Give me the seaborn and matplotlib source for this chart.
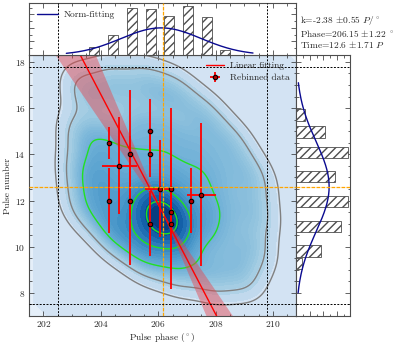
import numpy as np
import pandas as pd
import matplotlib.pyplot as plt
import matplotlib.colors as mcolors
from matplotlib.ticker import MultipleLocator
import seaborn as sns

# rebinned data
phase = [204.3, 204.3, 204.65, 205.0, 205.0, 205.7, 205.7, 205.7, 206.05, 206.43, 206.43, 206.43, 207.13, 207.5]
pulse = [14.5, 12.0, 13.5, 14.0, 12.0, 15.0, 14.0, 11.0, 12.5, 12.5, 11.5, 11.0, 12.0, 12.25]
phase_err = [0, 0, 0.6, 0, 0, 0, 0, 0, 0.5, 0, 0, 0, 0, 0.5]
pulse_err = [0.7, 1.4, 2.1, 2.8, 2.8, 1.4, 1.0, 1.4, 2.1, 3.5, 1.0, 2.85, 1.4, 3.1]

# single-pulse samples behind the density map (estimated from the map)
kde_phase = [203.5, 204.5, 205.6, 206.6, 207.6, 208.5, 209.2, 209.3, 209.2, 208.8, 207.8,
             206.6, 205.5, 204.5, 203.5, 203.4, 203.4,
             204.3, 205.3, 206.3, 207.3, 208.0, 208.1, 207.8, 206.8, 205.6, 204.6, 204.1, 204.1,
             205.2, 206.2, 207.0, 207.2, 206.6, 205.5, 205.0, 206.0,
             206.1, 205.9, 206.3, 206.0, 206.3]
kde_pulse = [16.7, 17.0, 17.0, 16.6, 15.6, 14.4, 13.0, 11.5, 10.0, 8.9, 8.8,
             9.1, 9.6, 10.5, 11.7, 13.2, 14.8,
             14.6, 15.2, 15.0, 14.2, 13.0, 11.6, 10.5, 10.0, 10.2, 11.0, 12.2, 13.4,
             13.8, 13.6, 12.8, 11.6, 11.0, 11.2, 12.4, 12.4,
             11.3, 11.1, 11.5, 11.6, 11.0]

# top histogram (pulse phase)
phase_bins = [203.76, 204.42, 205.08, 205.74, 206.39, 207.03, 207.69, 208.32]
phase_counts = [1.2, 2.9, 6.9, 6.8, 5.7, 7.2, 5.6, 0.7]

# right histogram (pulse number)
pulse_bins = [15.71, 14.97, 14.07, 13.04, 11.95, 10.88, 9.82, 9.28]
pulse_counts = [1.3, 4.3, 7.6, 5.7, 7.6, 6.6, 3.7, 0.9]

# fit results
k, k_err = -2.38, 0.55
phase0, phase0_err = 206.15, 1.22
time0, time0_err = 12.6, 1.71
fit_y0 = 11.48  # fitted line at phase0

# norm-fitting curves as drawn
top_mu, top_sigma, top_amp = 206.1, 1.4, 4.0
right_mu, right_sigma, right_amp = 12.6, 1.95, 4.85

# dotted guide lines
x_guides = [202.5, 209.8]
y_guides = [17.8, 7.5]

sns.set_style('ticks')
plt.rcParams['font.family'] = ['cmr10', 'DejaVu Serif']
plt.rcParams['mathtext.fontset'] = 'cm'
plt.rcParams['axes.unicode_minus'] = False
plt.rcParams['axes.formatter.use_mathtext'] = True
plt.rcParams['font.size'] = 6.8

fig = plt.figure(figsize=(3.99, 3.46), dpi=100)
ax = fig.add_axes([0.0727, 0.0867, 0.6693, 0.7543])
ax_top = fig.add_axes([0.0727, 0.841, 0.6693, 0.150], sharex=ax)
ax_right = fig.add_axes([0.742, 0.0867, 0.135, 0.7543], sharey=ax)

xlim = (201.5, 210.8)
ylim = (7.0, 18.3)

# density
t = np.linspace(0, 1, 256)
cmap = mcolors.ListedColormap(plt.cm.Blues(0.1 + 0.88 * t ** 0.65))
ax.set_facecolor(plt.cm.Blues(0.09))
kde = pd.DataFrame({'phase': kde_phase, 'pulse': kde_pulse})
bw = 0.65
sns.kdeplot(data=kde, x='phase', y='pulse', fill=True, levels=30, thresh=0,
            cmap=cmap, bw_adjust=bw, ax=ax, zorder=0)
sns.kdeplot(data=kde, x='phase', y='pulse', levels=[0.025, 0.09], color='gray',
            linewidths=1, bw_adjust=bw, ax=ax, zorder=1)
sns.kdeplot(data=kde, x='phase', y='pulse', levels=[0.5, 0.82, 0.94], color='#22e022',
            linewidths=1, bw_adjust=bw, ax=ax, zorder=1)

# linear fit with slope uncertainty band
xf = np.linspace(xlim[0], xlim[1], 200)
ax.fill_between(xf, fit_y0 + (k - k_err) * (xf - phase0), fit_y0 + (k + k_err) * (xf - phase0),
                color='#e8434b', alpha=0.45, lw=0, zorder=2)
sns.lineplot(x=xf, y=fit_y0 + k * (xf - phase0), color='red', lw=1, ax=ax,
             label='Linear fitting', zorder=3)

ax.errorbar(phase, pulse, xerr=phase_err, yerr=pulse_err, fmt='o', color='red',
            ecolor='red', elinewidth=1.3, ms=3.2, mfc='#b00000', mec='black', mew=0.8,
            label='Rebinned data', zorder=4)

for a in (ax, ax_top):
    for xg in x_guides:
        a.axvline(xg, color='black', ls=(0, (2, 1.5)), lw=0.7, zorder=5)
    a.axvline(phase0, color='#ffa500', ls=(0, (3, 1)), lw=0.9, zorder=5)
for a in (ax, ax_right):
    for yg in y_guides:
        a.axhline(yg, color='black', ls=(0, (2, 1.5)), lw=0.7, zorder=5)
    a.axhline(time0, color='#ffa500', ls=(0, (3, 1)), lw=0.9, zorder=5)

ax.set_xlim(*xlim)
ax.set_ylim(*ylim)
ax.set_xlabel(r'Pulse phase ($^\circ$)', labelpad=1)
ax.set_ylabel('Pulse number', labelpad=2)
ax.legend(loc='upper right', frameon=False, fontsize=6.8, handlelength=1.9,
          borderaxespad=0.3, labelspacing=0.35, handletextpad=0.6)

# top histogram
ax_top.bar(phase_bins, phase_counts, width=0.35, color='white', edgecolor='0.3',
           hatch='////', lw=0.6, zorder=2)
xt = np.linspace(202.8, 209.3, 200)
sns.lineplot(x=xt, y=top_amp * np.exp(-0.5 * ((xt - top_mu) / top_sigma) ** 2),
             color='#0a0a90', lw=1, ax=ax_top, label='Norm-fitting', zorder=3)
ax_top.set_ylim(0, 7.65)
ax_top.legend(loc='upper left', frameon=False, fontsize=6.8, handlelength=2.3,
              borderaxespad=0.4, handletextpad=0.6)
ax_top.yaxis.set_major_locator(MultipleLocator(2))
ax_top.yaxis.set_minor_locator(MultipleLocator(1))

# right histogram
ax_right.barh(pulse_bins, pulse_counts, height=0.5, color='white', edgecolor='0.3',
              hatch='////', lw=0.6, zorder=2)
yr = np.linspace(8.0, 17.1, 200)
ax_right.plot(right_amp * np.exp(-0.5 * ((yr - right_mu) / right_sigma) ** 2), yr,
              color='#0a0a90', lw=1, zorder=3)
ax_right.set_xlim(0, 7.9)
ax_right.xaxis.set_major_locator(MultipleLocator(2))
ax_right.xaxis.set_minor_locator(MultipleLocator(1))

ax.xaxis.set_major_locator(MultipleLocator(2))
ax.xaxis.set_minor_locator(MultipleLocator(0.5))
ax.yaxis.set_major_locator(MultipleLocator(2))
ax.yaxis.set_minor_locator(MultipleLocator(0.5))

for a in (ax, ax_top, ax_right):
    a.tick_params(which='both', direction='in', top=True, right=True, width=0.5,
                  labelsize=6.8, pad=2.5)
    a.tick_params(which='major', length=3.5)
    a.tick_params(which='minor', length=1.8)
    for s in a.spines.values():
        s.set_linewidth(0.8)
        s.set_color('0.3')
ax_top.tick_params(labelbottom=False, labelleft=False)
ax_right.tick_params(labelbottom=False, labelleft=False)
ax_top.set_xlabel('')
ax_top.set_ylabel('')
ax_right.set_xlabel('')
ax_right.set_ylabel('')

fig.text(0.752, 0.907,
         'k=-2.38 $\\pm$0.55 $P/^\\circ$\nPhase=206.15 $\\pm$1.22 $^\\circ$\nTime=12.6 $\\pm$1.71 $P$',
         fontsize=6.8, va='center', linespacing=1.05)

fig.savefig('out.png', dpi=100)
